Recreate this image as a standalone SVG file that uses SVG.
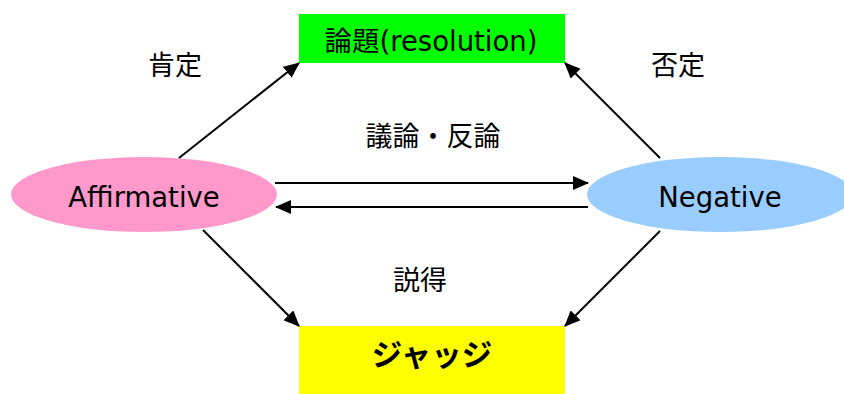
<svg xmlns="http://www.w3.org/2000/svg" width="844" height="394" viewBox="0 0 844 394">
<style>
.t{font-family:"DejaVu Sans","Noto Sans CJK JP",sans-serif;font-size:27.5px;fill:#000;text-anchor:middle}
.j{font-family:"Noto Sans CJK JP",sans-serif;font-size:27px;fill:#000;text-anchor:middle}
.c{stroke:#000;stroke-width:2;fill:none;marker-end:url(#ah)}
</style>
<defs>
<marker id="ah" markerUnits="userSpaceOnUse" markerWidth="16" markerHeight="14" refX="15" refY="7" orient="auto">
<path d="M0,0 L16,7 L0,14 z" fill="#000"/>
</marker>
</defs>
<rect width="844" height="394" fill="#fff"/>
<g id="resolution">
<rect x="299" y="14" width="266" height="49" fill="#00ff00"/>
<text class="t" x="431" y="51">論題(resolution)</text>
</g>
<g id="judge">
<rect x="299" y="326" width="266" height="68" fill="#ffff00"/>
<text class="j" x="432" y="366" style="font-size:30.5px;font-weight:bold">ジャッジ</text>
</g>
<g id="affirmative">
<ellipse cx="144" cy="194.5" rx="133" ry="37.5" fill="#ff99cc"/>
<text class="t" x="144" y="207">Affirmative</text>
</g>
<g id="negative">
<ellipse cx="720" cy="194.5" rx="133" ry="37.5" fill="#99ccff"/>
<text class="t" x="720" y="207">Negative</text>
</g>
<g id="connectors">
<line class="c" x1="179" y1="158" x2="299" y2="63"/>
<line class="c" x1="660" y1="158" x2="565" y2="63"/>
<line class="c" x1="203" y1="230" x2="299" y2="326"/>
<line class="c" x1="660" y1="231" x2="565" y2="326"/>
<line class="c" x1="275" y1="183" x2="588" y2="183"/>
<line class="c" x1="588" y1="207" x2="276" y2="207"/>
</g>
<g id="labels">
<text class="j" x="175" y="75">肯定</text>
<text class="j" x="678" y="75">否定</text>
<text class="j" x="433" y="146">議論・反論</text>
<text class="j" x="420" y="290">説得</text>
</g>
</svg>
